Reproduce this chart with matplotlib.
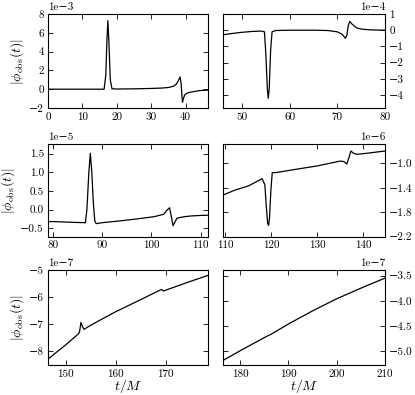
import matplotlib
matplotlib.use('Agg')
import matplotlib.pyplot as plt
from matplotlib.ticker import MultipleLocator
import numpy as np

plt.rcParams['font.family'] = ['cmr10', 'DejaVu Serif']
plt.rcParams['mathtext.fontset'] = 'cm'
plt.rcParams['axes.formatter.use_mathtext'] = False
plt.rcParams['font.size'] = 8

# panel 1: t in [0, 46.5], phi in 1e-3
t1 = [0, 16.3, 16.8, 17.1, 17.4, 17.7, 18.1, 18.6, 20, 25, 30, 33, 35, 36.5, 37.3,
      37.8, 38.4, 38.7, 38.9, 39.1, 39.4, 39.7, 40.3, 41, 42.4, 44, 46.5]
p1 = [0, 0, 1.5, 5.0, 7.3, 5.0, 1.0, 0.05, 0.02, 0.04, 0.08, 0.12, 0.18, 0.32, 0.55,
      0.85, 1.3, 0.6, -0.6, -1.39, -0.95, -0.62, -0.45, -0.35, -0.25, -0.15, -0.1]
p1 = [v * 1e-3 for v in p1]

# panel 2: t in [46, 80], phi in 1e-4
t2 = [46, 48, 50, 52, 54, 54.7, 55.0, 55.3, 55.5, 55.7, 56.0, 56.3, 57, 60, 65, 68,
      70, 71, 71.7, 72.0, 72.3, 72.6, 73, 74, 75, 77, 80]
p2 = [-0.28, -0.2, -0.13, -0.08, -0.05, -0.1, -1.5, -3.6, -4.2, -3.6, -1.2, -0.1,
      -0.02, 0.0, 0.0, -0.02, -0.1, -0.25, -0.5, -0.3, 0.3, 0.55, 0.4, 0.15, 0.07,
      0.02, 0.0]
p2 = [v * 1e-4 for v in p2]

# panel 3: t in [79, 111.5], phi in 1e-5
t3 = [79, 80, 84, 86.6, 86.9, 87.3, 87.6, 87.9, 88.2, 88.5, 88.8, 90, 93.7, 97,
      100.5, 102.5, 103.2, 103.7, 104.0, 104.4, 104.8, 105.2, 106.6, 108, 110, 111.5]
p3 = [-0.32, -0.32, -0.34, -0.35, 0.0, 1.0, 1.51, 1.0, 0.2, -0.3, -0.375, -0.35,
      -0.3, -0.25, -0.19, -0.125, -0.01, 0.05, -0.15, -0.43, -0.33, -0.23, -0.19,
      -0.17, -0.155, -0.15]
p3 = [v * 1e-5 for v in p3]

# panel 4: t in [109.5, 144.7], phi in 1e-6
t4 = [109.5, 112, 115, 118, 118.6, 118.9, 119.2, 119.4, 119.6, 119.9, 120.2, 121,
      125, 130, 135, 135.8, 136.4, 136.8, 137.3, 137.8, 138.6, 141, 144.7]
p4 = [-1.52, -1.44, -1.37, -1.25, -1.35, -1.7, -1.98, -2.02, -1.9, -1.45, -1.15,
      -1.15, -1.1, -1.04, -0.96, -0.97, -1.01, -0.92, -0.795, -0.83, -0.85, -0.83,
      -0.795]
p4 = [v * 1e-6 for v in p4]

# panel 5: t in [146.5, 178.5], phi in 1e-7
t5 = [146.5, 150, 152.5, 152.8, 153.1, 153.4, 153.7, 155, 160, 165, 169.2, 169.6,
      170, 175, 178.5]
p5 = [-8.3, -7.78, -7.38, -7.3, -6.94, -7.1, -7.2, -7.05, -6.55, -6.1, -5.72, -5.78,
      -5.75, -5.42, -5.2]
p5 = [v * 1e-7 for v in p5]

# panel 6: t in [176.5, 210], phi in 1e-7
t6 = [176.5, 180, 185, 186, 186.3, 190, 195, 200, 205, 210]
p6 = [-5.18, -4.99, -4.73, -4.68, -4.67, -4.46, -4.2, -3.96, -3.75, -3.55]
p6 = [v * 1e-7 for v in p6]

times = [t1, t2, t3, t4, t5, t6]
phis = [p1, p2, p3, p4, p5, p6]
xlims = [(0, 46.5), (46, 80), (79, 111.5), (109.5, 144.7), (146.5, 178.5), (176.5, 210)]
ylims = [(-2e-3, 8e-3), (-4.8e-4, 1e-4), (-0.72e-5, 1.76e-5), (-2.2e-6, -0.68e-6),
         (-8.52e-7, -5e-7), (-5.27e-7, -3.39e-7)]
yticks = [np.arange(-2, 9, 2) * 1e-3, np.arange(-4, 2, 1) * 1e-4,
          np.arange(-0.5, 1.6, 0.5) * 1e-5, np.array([-2.2, -1.8, -1.4, -1.0]) * 1e-6,
          np.array([-8, -7, -6, -5]) * 1e-7, np.array([-5.0, -4.5, -4.0, -3.5]) * 1e-7]

W, H = 415, 395
fig = plt.figure(figsize=(W / 100, H / 100), dpi=100)
lefts = [48, 223]
widths = [160, 162]
rows = [(14, 108), (144, 236.5), (270, 365)]

for i in range(6):
    r, c = i // 2, i % 2
    top, bot = rows[r]
    ax = fig.add_axes([lefts[c] / W, 1 - bot / H, widths[c] / W, (bot - top) / H])
    ax.plot(times[i], phis[i], color='k', lw=0.9)
    ax.set_xlim(xlims[i])
    ax.set_ylim(ylims[i])
    ax.set_yticks(yticks[i])
    ax.xaxis.set_major_locator(MultipleLocator(10))
    ax.ticklabel_format(axis='y', style='sci', scilimits=(0, 0))
    ax.tick_params(direction='in', top=True, right=True, left=True, bottom=True,
                   length=3.5, width=0.6, labelsize=8, pad=3)
    if c == 1:
        ax.tick_params(labelleft=False, labelright=True)
        ax.yaxis.set_offset_position('right')
        ax.yaxis.get_offset_text().set_horizontalalignment('right')
    else:
        ax.set_ylabel(r'$|\phi_{\rm obs}(t)|$', fontsize=10, labelpad=2)
    if r == 2:
        ax.set_xlabel(r'$t/M$', fontsize=10, labelpad=-1)
    for s in ax.spines.values():
        s.set_linewidth(0.8)

fig.savefig('out.png', dpi=100)
